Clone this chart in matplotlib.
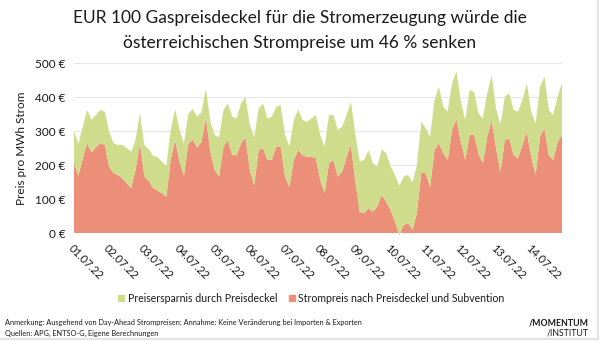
import matplotlib
matplotlib.use("Agg")
import matplotlib.pyplot as plt
import pandas as pd

plt.rcParams["font.family"] = ["Lato", "DejaVu Sans"]

# 3-hourly samples, 01.07.22 00:00 to 14.07.22 21:00
zeit = pd.date_range("2022-07-01 00:00", periods=112, freq="3h")

# price after cap and subsidy (EUR/MWh)
strompreis = [
    207, 168, 220, 264, 237, 252, 264, 259,
    195, 176, 171, 161, 146, 132, 186, 264,
    166, 154, 132, 125, 117, 107, 215, 274,
    210, 168, 262, 275, 252, 268, 340, 240,
    185, 166, 254, 273, 229, 229, 264, 281,
    185, 141, 244, 249, 215, 215, 254, 254,
    166, 136, 215, 244, 229, 224, 224, 220,
    156, 117, 205, 215, 166, 180, 224, 259,
    150, 63, 58, 73, 63, 78, 112, 92,
    68, 34, -6, 24, 29, 9, 60, 180,
    175, 136, 244, 264, 234, 215, 303, 335,
    268, 215, 290, 290, 234, 205, 283, 332,
    249, 180, 273, 278, 229, 220, 259, 298,
    224, 170, 283, 308, 229, 215, 268, 288,
]

# saving from the gas price cap (EUR/MWh), stacked on top
ersparnis = [
    93, 94, 93, 98, 96, 95, 98, 98,
    103, 88, 88, 98, 103, 107, 88, 88,
    93, 92, 95, 98, 93, 90, 88, 90,
    95, 94, 88, 90, 90, 87, 85, 90,
    103, 115, 108, 108, 113, 108, 117, 120,
    133, 140, 122, 132, 122, 127, 117, 122,
    122, 118, 117, 120, 103, 103, 113, 127,
    132, 137, 142, 132, 137, 133, 123, 127,
    140, 147, 157, 171, 142, 117, 134, 143,
    129, 137, 145, 142, 142, 139, 140, 147,
    133, 147, 147, 166, 137, 142, 137, 140,
    118, 117, 130, 125, 118, 132, 128, 132,
    117, 138, 128, 133, 133, 137, 132, 142,
    133, 152, 147, 152, 133, 132, 133, 152,
]

tick_labels = ["01.07.22", "02.07.22", "03.07.22", "04.07.22", "05.07.22",
               "06.07.22", "07.07.22", "08.07.22", "09.07.22", "10.07.22",
               "11.07.22", "12.07.22", "13.07.22", "14.07.22"]

y_ticks = [0, 100, 200, 300, 400, 500]

rot = "#ec8f79"
gruen = "#cfdc8b"
text_col = "#1a1a1a"

fig = plt.figure(figsize=(6, 3.41), dpi=100)
ax = fig.add_axes([74 / 600, 108 / 341, 488 / 600, 170 / 341])

stunden = (zeit - zeit[0]) / pd.Timedelta(hours=1)
polys = ax.stackplot(stunden, strompreis, ersparnis, colors=[rot, gruen],
                     linewidth=0, zorder=2)
for p in polys:
    p.set_clip_on(False)

ax.set_xlim(stunden[0], stunden[-1])
ax.set_ylim(0, 500)
ax.set_yticks(y_ticks)
ax.set_yticklabels([f"{v} €" for v in y_ticks], fontsize=8.5, color=text_col)
ax.set_xticks([24 * i for i in range(len(tick_labels))])
ax.set_xticklabels(tick_labels, rotation=-45, ha="left", va="top",
                   rotation_mode="anchor", fontsize=8, color=text_col)
ax.tick_params(length=0, pad=6)
ax.tick_params(axis="x", pad=7)
ax.grid(axis="y", color="#e6e6e6", linewidth=0.8, zorder=0)
for s in ax.spines.values():
    s.set_visible(False)
ax.set_ylabel("Preis pro MWh Strom", fontsize=8.5, color=text_col, labelpad=6)

fig.text(0.5, 0.947, "EUR 100 Gaspreisdeckel für die Stromerzeugung würde die",
         ha="center", va="center", fontsize=12.5, color=text_col)
fig.text(0.5, 0.874, "österreichischen Strompreise um 46 % senken",
         ha="center", va="center", fontsize=12.5, color=text_col)

# legend
fig.patches.append(plt.Rectangle((118 / 600, 1 - 301 / 341), 6 / 600, 6 / 341,
                                 transform=fig.transFigure, color=gruen))
fig.text(128 / 600, 1 - 298 / 341, "Preisersparnis durch Preisdeckel",
         ha="left", va="center", fontsize=7.6, color=text_col)
fig.patches.append(plt.Rectangle((289 / 600, 1 - 301 / 341), 6 / 600, 6 / 341,
                                 transform=fig.transFigure, color=rot))
fig.text(298 / 600, 1 - 298 / 341, "Strompreis nach Preisdeckel und Subvention",
         ha="left", va="center", fontsize=7.6, color=text_col)

# footer
fig.text(5 / 600, 1 - 322 / 341,
         "Anmerkung: Ausgehend von Day-Ahead Strompreisen; Annahme: Keine Veränderung bei Importen & Exporten",
         ha="left", va="center", fontsize=5.3, color=text_col)
fig.text(5 / 600, 1 - 333 / 341, "Quellen: APG, ENTSO-G, Eigene Berechnungen",
         ha="left", va="center", fontsize=5.3, color=text_col)
fig.text(589 / 600, 1 - 322.5 / 341, "/MOMENTUM", ha="right", va="center",
         fontsize=6.3, fontweight="bold", color=text_col)
fig.text(589 / 600, 1 - 332.5 / 341, "/INSTITUT", ha="right", va="center",
         fontsize=6.3, color=text_col)

# thin grey frame on the right and bottom edge
fig.add_artist(plt.Line2D([598 / 600, 598 / 600], [2 / 341, 1], transform=fig.transFigure,
                          color="#e4e4e4", linewidth=1.5))
fig.add_artist(plt.Line2D([0, 598 / 600], [2 / 341, 2 / 341], transform=fig.transFigure,
                          color="#e4e4e4", linewidth=1.5))

fig.savefig("out.png", dpi=100, facecolor="white")
